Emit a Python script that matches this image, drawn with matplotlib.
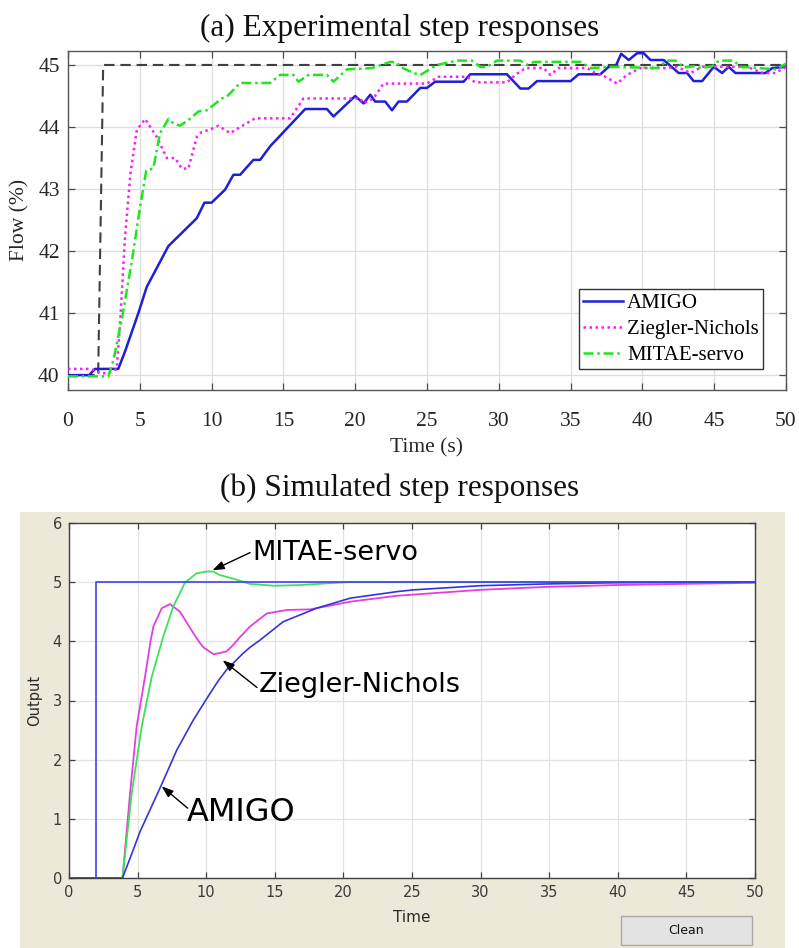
import matplotlib
matplotlib.use('Agg')
import matplotlib.pyplot as plt
from matplotlib.patches import Rectangle

# ---------------- (a) experimental data ----------------
sp_a_t = [0, 2.1, 2.45, 50]
sp_a_y = [40, 40, 45, 45]

amigo_a_t = [0, 1.48, 1.88, 3.5, 3.97, 4.9, 5.48, 6.99, 8.97, 9.5, 10.0, 10.94, 11.52, 11.99,
             12.91, 13.38, 14.08, 16.52, 18.03, 18.49, 20.0, 20.58, 21.05, 21.39, 22.09, 22.56,
             23.02, 23.6, 24.53, 25.0, 25.57, 27.55, 28.01, 30.57, 31.5, 32.08, 32.66, 35.0,
             35.56, 37.07, 37.65, 38.12, 38.52, 39.05, 39.63, 40.09, 40.56, 41.48, 42.53, 43.11,
             43.57, 44.16, 44.97, 45.55, 46.01, 46.48, 48.57, 49.04, 50]
amigo_a_y = [40.0, 40.0, 40.1, 40.1, 40.38, 41.0, 41.42, 42.08, 42.53, 42.78, 42.78, 42.99, 43.23,
             43.23, 43.47, 43.47, 43.69, 44.29, 44.29, 44.17, 44.5, 44.38, 44.52, 44.41, 44.41,
             44.27, 44.41, 44.41, 44.63, 44.63, 44.73, 44.73, 44.85, 44.85, 44.62, 44.62, 44.74,
             44.74, 44.85, 44.85, 44.97, 44.97, 45.18, 45.08, 45.19, 45.19, 45.08, 45.08, 44.87,
             44.87, 44.74, 44.74, 44.97, 44.87, 44.97, 44.87, 44.87, 44.95, 44.97]

zn_a_t = [0, 1.6, 2.23, 2.81, 3.39, 3.62, 3.97, 4.35, 4.79, 5.37, 6.18, 6.88, 7.46, 7.92, 8.38,
          8.97, 9.32, 9.9, 10.47, 11.29, 11.99, 13.03, 15.47, 16.4, 20.35, 20.58, 21.27, 21.97,
          25.0, 25.8, 27.78, 28.36, 30.57, 31.15, 31.85, 33.12, 33.59, 34.17, 36.15, 36.72,
          37.42, 38.24, 38.93, 39.86, 41.72, 42.42, 43.34, 44.16, 47.3, 48.34, 49.27, 50]
zn_a_y = [40.1, 40.1, 40.03, 40.03, 40.1, 40.81, 42.23, 43.25, 43.95, 44.13, 43.84, 43.5, 43.5,
          43.33, 43.33, 43.84, 43.92, 43.96, 44.02, 43.9, 44.0, 44.14, 44.14, 44.46, 44.46,
          44.38, 44.46, 44.7, 44.7, 44.81, 44.81, 44.72, 44.72, 44.84, 44.95, 44.95, 44.84,
          44.95, 44.95, 44.87, 44.81, 44.7, 44.84, 44.95, 44.95, 44.97, 44.87, 44.97, 44.97,
          44.87, 44.87, 44.97]

mitae_a_t = [0, 2.81, 3.16, 3.74, 4.44, 5.02, 5.45, 5.94, 6.41, 6.99, 7.34, 7.8, 8.38, 9.08, 9.67,
             10.71, 11.06, 11.99, 14.08, 14.77, 15.7, 16.05, 16.75, 18.03, 18.49, 19.42, 21.16,
             22.44, 22.9, 23.14, 24.06, 24.53, 24.76, 25.69, 27.09, 28.13, 28.71, 29.18, 29.87,
             31.5, 31.97, 32.43, 35.68, 36.38, 38.0, 41.02, 41.72, 42.3, 42.88, 43.57, 44.16,
             44.86, 45.32, 46.36, 46.83, 49.3, 50]
mitae_a_y = [39.98, 39.98, 40.24, 40.89, 41.83, 42.71, 43.3, 43.33, 43.9, 44.13, 44.06, 44.02,
             44.11, 44.25, 44.27, 44.46, 44.49, 44.71, 44.71, 44.84, 44.84, 44.73, 44.84, 44.84,
             44.73, 44.93, 44.95, 45.05, 45.04, 44.97, 44.87, 44.84, 44.87, 45.0, 45.07, 45.07,
             44.97, 44.97, 45.07, 45.07, 45.0, 45.05, 45.05, 44.95, 44.97, 44.95, 45.07, 45.07,
             44.96, 44.98, 44.95, 44.98, 45.07, 45.07, 44.97, 44.93, 45.02]

labels_a = ['AMIGO', 'Ziegler-Nichols', 'MITAE-servo']
ticks_a_x = [0, 5, 10, 15, 20, 25, 30, 35, 40, 45, 50]
ticks_a_y = [40, 41, 42, 43, 44, 45]

# ---------------- (b) simulated data ----------------
sp_b_t = [0, 2, 2, 50]
sp_b_y = [0, 0, 5, 5]

amigo_b_t = [0, 3.9, 4.69, 5.17, 6.75, 7.85, 9.06, 10.28, 10.9, 11.49, 12.7, 13.2, 13.92, 15.6,
             18.05, 20.5, 23.9, 25.1, 29.95, 34.8, 39.7, 45, 50]
amigo_b_y = [0, 0, 0.48, 0.78, 1.58, 2.16, 2.67, 3.12, 3.34, 3.52, 3.8, 3.9, 4.02, 4.33, 4.56,
             4.73, 4.84, 4.87, 4.94, 4.97, 4.99, 5.0, 5.0]

zn_b_t = [0, 3.9, 4.45, 4.93, 5.54, 5.94, 6.15, 6.76, 7.36, 8.09, 9.06, 9.55, 9.79, 10.55, 11.49,
          11.97, 12.46, 13.19, 14.41, 15.87, 17.57, 20.5, 23.9, 29.95, 34.8, 39.7, 44.5, 50]
zn_b_y = [0, 0, 1.43, 2.56, 3.4, 4.0, 4.25, 4.56, 4.63, 4.5, 4.14, 3.97, 3.9, 3.78, 3.83, 3.94,
          4.07, 4.25, 4.47, 4.53, 4.54, 4.67, 4.77, 4.87, 4.92, 4.95, 4.97, 4.99]

mitae_b_t = [0, 3.9, 4.57, 5.3, 6.03, 6.87, 7.6, 8.45, 9.3, 10.03, 10.5, 11.0, 11.97, 13.2, 14.9,
             16.8, 18.8, 20.3, 50]
mitae_b_y = [0, 0, 1.43, 2.56, 3.4, 4.08, 4.59, 4.99, 5.15, 5.18, 5.18, 5.12, 5.06, 4.97, 4.94,
             4.95, 4.98, 5.0, 5.0]

ticks_b_x = [0, 5, 10, 15, 20, 25, 30, 35, 40, 45, 50]
ticks_b_y = [0, 1, 2, 3, 4, 5, 6]

W, H = 799, 948
fig = plt.figure(figsize=(W / 100, H / 100), dpi=100)
fig.patch.set_facecolor('white')

def fx(px):
    return px / W

def fy(py):
    return 1 - py / H

serif = ['Liberation Serif', 'DejaVu Serif']

# beige GUI panel behind the lower chart
fig.patches.append(Rectangle((fx(20), 0), fx(785) - fx(20), fy(512), transform=fig.transFigure,
                             facecolor='#ece9d8', edgecolor='none', zorder=-5))

# ---------------- top axes ----------------
ax1 = fig.add_axes([fx(68), fy(390), fx(786) - fx(68), fy(50.7) - fy(390)])
ax1.plot(amigo_a_t, amigo_a_y, color='#1f1fd8', lw=1.8, label=labels_a[0], zorder=3)
ax1.plot(zn_a_t, zn_a_y, color='#ff1aff', lw=1.8, ls=(0, (1, 1.4)), label=labels_a[1], zorder=3)
ax1.plot(mitae_a_t, mitae_a_y, color='#1ee61e', lw=1.8, ls=(0, (4, 1.5, 1, 1.5)),
         label=labels_a[2], zorder=3)
ax1.plot(sp_a_t, sp_a_y, color='#404040', lw=1.5, ls=(0, (5, 2.8)), zorder=2)
ax1.set_xlim(0, 50)
ax1.set_ylim(39.76, 45.23)
ax1.set_xticks(ticks_a_x)
ax1.set_yticks(ticks_a_y)
ax1.grid(True, color='#dddddd', lw=0.9)
ax1.set_axisbelow(True)
ax1.tick_params(direction='in', top=True, right=True, length=5, width=0.9, color='#4d4d4d',
                labelsize=15.5)
ax1.tick_params(axis='x', pad=16)
ax1.tick_params(axis='y', pad=6)
for lab in ax1.get_xticklabels() + ax1.get_yticklabels():
    lab.set_fontfamily(serif)
    lab.set_color('#262626')
for s in ax1.spines.values():
    s.set_color('#555555')
    s.set_linewidth(1.0)
ax1.set_xlabel('Time (s)', fontsize=15.5, family=serif, color='#262626')
ax1.xaxis.set_label_coords(0.5, (390 - 448) / (390 - 50.7))
ax1.xaxis.label.set_va('center')
ax1.set_ylabel('Flow (%)', fontsize=15.5, family=serif, color='#262626')
ax1.yaxis.set_label_coords((20 - 68) / (786 - 68), 0.5)
ax1.yaxis.label.set_va('center')
leg = ax1.legend(loc='lower right', bbox_to_anchor=(fx(763), fy(369)),
                 bbox_transform=fig.transFigure, borderaxespad=0,
                 prop={'family': serif, 'size': 15}, fancybox=False, framealpha=1,
                 edgecolor='#333333', handlelength=1.9, handletextpad=0.2,
                 labelspacing=0.3, borderpad=0.2)
leg.get_frame().set_linewidth(1.0)

fig.text(0.5, fy(28), '(a) Experimental step responses', ha='center', va='center',
         fontsize=22.5, family=serif, color='#111111')
fig.text(0.5, fy(488), '(b) Simulated step responses', ha='center', va='center',
         fontsize=22.5, family=serif, color='#111111')

# ---------------- bottom axes ----------------
ax2 = fig.add_axes([fx(69), fy(878), fx(755) - fx(69), fy(523) - fy(878)])
ax2.set_facecolor('white')
blue = '#3434dc'
ax2.plot(zn_b_t, zn_b_y, color='#e23ee2', lw=1.3, zorder=3)
ax2.plot(mitae_b_t, mitae_b_y, color='#3ee05a', lw=1.3, zorder=3)
ax2.plot(amigo_b_t, amigo_b_y, color=blue, lw=1.2, zorder=4)
ax2.plot(sp_b_t, sp_b_y, color='#4040f0', lw=1.2, zorder=4)
ax2.set_xlim(0, 50)
ax2.set_ylim(0, 6)
ax2.set_xticks(ticks_b_x)
ax2.set_yticks(ticks_b_y)
ax2.grid(True, color='#e2e2e2', lw=0.9)
ax2.set_axisbelow(True)
ax2.tick_params(direction='in', top=True, right=True, length=4, width=0.9, color='#404040',
                labelsize=10.5, labelcolor='#3a3a3a', pad=5)
for s in ax2.spines.values():
    s.set_color('#404040')
    s.set_linewidth(1.0)
ax2.set_xlabel('Time', fontsize=11, color='#2a2a2a')
ax2.xaxis.set_label_coords(0.5, (878 - 918) / (878 - 523))
ax2.xaxis.label.set_va('center')
ax2.set_ylabel('Output', fontsize=10.5, color='#2a2a2a')
ax2.yaxis.set_label_coords((35 - 69) / (755 - 69), 0.5)
ax2.yaxis.label.set_va('center')

arrow = dict(arrowstyle='-|>,head_length=0.7,head_width=0.25', color='black', lw=1.0,
             shrinkA=0, shrinkB=0)
ax2.annotate('', xy=(10.45, 5.2), xytext=(13.2, 5.5), arrowprops=arrow, zorder=6)
ax2.text(13.4, 5.5, 'MITAE-servo', fontsize=19.5, ha='left', va='center', color='black')
ax2.annotate('', xy=(11.2, 3.68), xytext=(13.7, 3.22), arrowprops=arrow, zorder=6)
ax2.text(13.8, 3.26, 'Ziegler-Nichols', fontsize=19.5, ha='left', va='center', color='black')
ax2.annotate('', xy=(6.75, 1.55), xytext=(8.65, 1.18), arrowprops=arrow, zorder=6)
ax2.text(8.55, 1.1, 'AMIGO', fontsize=23, ha='left', va='center', color='black')

# Clean button
fig.patches.append(Rectangle((fx(621), fy(945)), fx(752) - fx(621), fy(916) - fy(945),
                             transform=fig.transFigure, facecolor='#e3e3e3',
                             edgecolor='#a8a8a8', lw=1.0, zorder=1))
fig.text((fx(621) + fx(752)) / 2, fy(931), 'Clean', ha='center', va='center', fontsize=9,
         color='#111111')

fig.savefig('out.png', dpi=100, facecolor='white')
